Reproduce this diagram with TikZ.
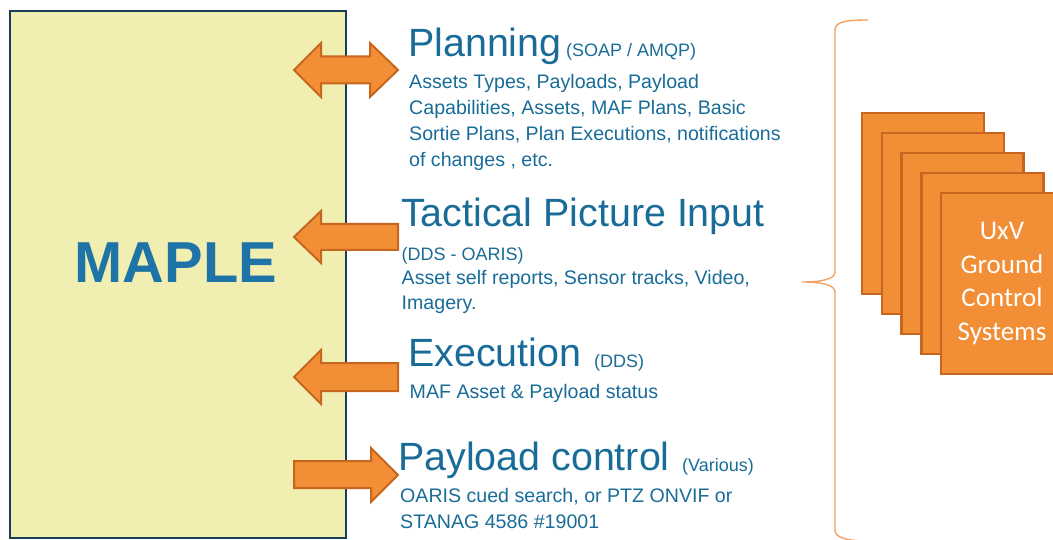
\documentclass[tikz,border=0pt]{standalone}
\usepackage{fontspec}
\setmainfont{Liberation Sans}
\newfontfamily\boxfont{Carlito}

\definecolor{mapleyellow}{HTML}{F0EEB1}
\definecolor{mapleedge}{HTML}{1B3E57}
\definecolor{titleblue}{HTML}{1E74A6}
\definecolor{textblue}{HTML}{186C97}
\definecolor{arroworange}{HTML}{F28E36}
\definecolor{arrowedge}{HTML}{C7661E}
\definecolor{bracecol}{HTML}{F4A263}

\newcommand\fsz[1]{\fontsize{#1}{#1}\selectfont}

\tikzset{
  heading/.style={anchor=base west, inner sep=0, text=textblue, font=\fsz{39.4}},
  proto/.style={anchor=base west, inner sep=0, text=textblue, font=\fsz{18}},
  detail/.style={anchor=base west, inner sep=0, text=textblue, font=\fsz{19.6}},
  blockarrow/.style={fill=arroworange, draw=arrowedge, line width=2pt, line join=miter},
  gcsbox/.style={rectangle, fill=arroworange, draw=arrowedge, line width=2.5pt,
    minimum width=122pt, minimum height=181pt, inner sep=0},
}

\begin{document}
\begin{tikzpicture}[x=1pt,y=-1pt]
\useasboundingbox (0,0) rectangle (1053,540);
\clip (0,0) rectangle (1053,540);

% MAPLE block
\node[draw=mapleedge, fill=mapleyellow, line width=2.5pt, minimum width=336pt,
      minimum height=527pt, inner sep=0] (maple) at (178,274.5) {};
\node[anchor=base, font=\bfseries\fsz{57.8}, text=titleblue, inner sep=0] (mapletitle)
      at (176,282.5) {MAPLE};

% interface arrows
\draw[blockarrow] (294,70) -- (321,43) -- (321,56.5) -- (370,56.5) -- (370,43)
   -- (398,70) -- (370,97) -- (370,83.5) -- (321,83.5) -- (321,97) -- cycle;
\draw[blockarrow] (294,237) -- (321,211) -- (321,224) -- (398,224) -- (398,250)
   -- (321,250) -- (321,263) -- cycle;
\draw[blockarrow] (294,377) -- (321,350) -- (321,363) -- (398,363) -- (398,391)
   -- (321,391) -- (321,404) -- cycle;
\draw[blockarrow] (294,461) -- (371,461) -- (371,448) -- (398,475) -- (371,502)
   -- (371,488) -- (294,488) -- cycle;

% Planning
\node[heading] (planh) at (408,57) {Planning};
\node[proto] (planp) at (566,57) {(SOAP / AMQP)};
\node[detail] (plan1) at (409,88.3) {Assets Types, Payloads, Payload};
\node[detail] (plan2) at (409,114.5) {Capabilities, Assets, MAF Plans, Basic};
\node[detail] (plan3) at (409,140.6) {Sortie Plans, Plan Executions, notifications};
\node[detail] (plan4) at (409,166.7) {of changes , etc.};

% Tactical picture
\node[heading] (tach) at (401,226.7) {Tactical Picture Input};
\node[proto] (tacp) at (401.5,261) {(DDS - OARIS)};
\node[detail] (tac1) at (401.5,285) {Asset self reports, Sensor tracks, Video,};
\node[detail] (tac2) at (401.5,309.5) {Imagery.};

% Execution
\node[heading] (exeh) at (408,366.7) {Execution};
\node[proto] (exep) at (594,367) {(DDS)};
\node[detail] (exe1) at (409.5,398.3) {MAF Asset \& Payload status};

% Payload control
\node[heading] (payh) at (398,470) {Payload control};
\node[proto] (payp) at (682,471) {(Various)};
\node[detail] (pay1) at (400,502.7) {OARIS cued search, or PTZ ONVIF or};
\node[detail] (pay2) at (400,528.3) {STANAG 4586 \#19001};

% brace
\draw[bracecol, line width=1.4pt] (868,20) .. controls (845,20) and (835,22) .. (835,30)
   -- (835,272) .. controls (835,279) and (822,282) .. (802,282)
   .. controls (822,282) and (835,285) .. (835,292)
   -- (835,530) .. controls (835,537) and (845,541) .. (868,541);

% stack of ground control systems
\node[gcsbox] (gcs1) at (923,203.5) {};
\node[gcsbox] (gcs2) at (942.75,223.5) {};
\node[gcsbox] (gcs3) at (962.5,243.5) {};
\node[gcsbox] (gcs4) at (982.25,263.5) {};
\node[gcsbox, align=center, text=white, font=\boxfont\fontsize{27}{33.7}\selectfont]
   (gcs5) at (1002,283.5) {UxV\\Ground\\Control\\Systems};
\end{tikzpicture}
\end{document}
